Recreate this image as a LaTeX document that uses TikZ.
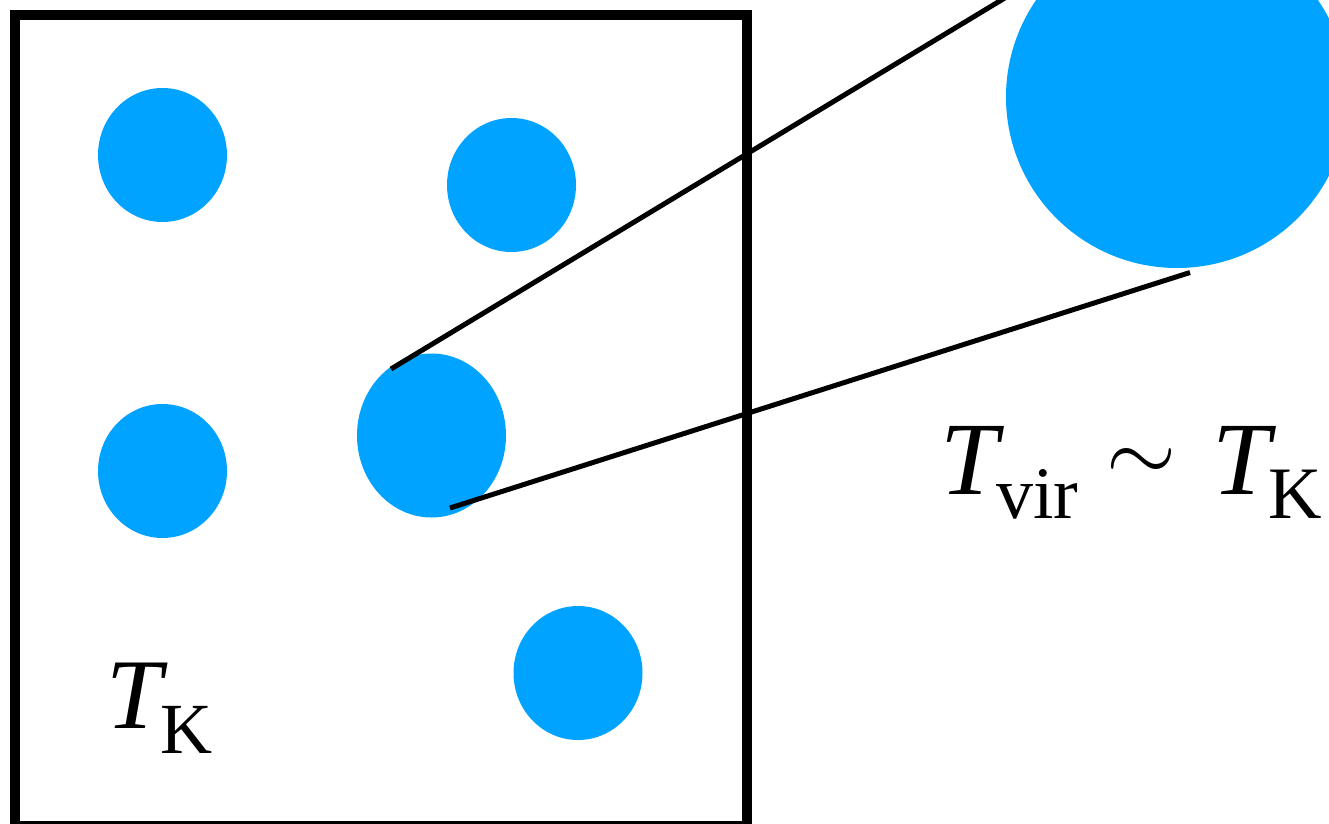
\documentclass[tikz,border=0pt]{standalone}
\usepackage{fontspec}
\usepackage{graphicx}
\setmainfont{Liberation Serif}
\definecolor{blob}{RGB}{0,163,255}
\tikzset{
  halo/.style={ellipse, fill=blob, draw=none, inner sep=0pt},
  frame/.style={line width=5pt, draw=black},
  ray/.style={line width=2.5pt, draw=black},
  lab/.style={inner sep=0pt, anchor=base west}
}
\usetikzlibrary{shapes.geometric}
\begin{document}
\begin{tikzpicture}[x=0.5pt,y=-0.5pt]
\useasboundingbox (0,0) rectangle (1329,824);
\clip (0,0) rectangle (1329,824);
\fill[white] (0,0) rectangle (1329,824);
% frame
\draw[frame] (15,15) rectangle (747,826);
% halos
\node[halo, minimum width=64.5pt, minimum height=67pt] (h1) at (162.5,155) {};
\node[halo, minimum width=64.5pt, minimum height=67pt] (h2) at (511.5,185) {};
\node[halo, minimum width=64.5pt, minimum height=67pt] (h3) at (162.5,471) {};
\node[halo, minimum width=74.5pt, minimum height=82pt] (h4) at (431.5,435.5) {};
\node[halo, minimum width=64.5pt, minimum height=67pt] (h5) at (578,673) {};
\node[halo, minimum width=171pt, minimum height=171pt] (big) at (1177,97) {};
% connector ends
\coordinate (a1) at (391,369);
\coordinate (b1) at (1018,-10);
\coordinate (a2) at (450,508);
\coordinate (b2) at (1190,272.5);
\draw[ray] (a1) -- (b1);
\draw[ray] (a2) -- (b2);
% labels
\node[lab] (tk) at (106,728) {{\fontsize{50}{60}\selectfont\itshape T}\kern-1pt\raisebox{-12.5pt}{\fontsize{36}{40}\selectfont K}};
\node[lab] (tv) at (940,494) {{\fontsize{52}{60}\selectfont\itshape T}\kern-1pt\raisebox{-12pt}{\fontsize{37}{40}\selectfont vir}\hspace{14pt}\raisebox{6pt}{\scalebox{4.5}{$\sim$}}\hspace{18pt}{\fontsize{52}{60}\selectfont\itshape T}\kern-1pt\raisebox{-12pt}{\fontsize{37}{40}\selectfont K}};
\end{tikzpicture}
\end{document}
